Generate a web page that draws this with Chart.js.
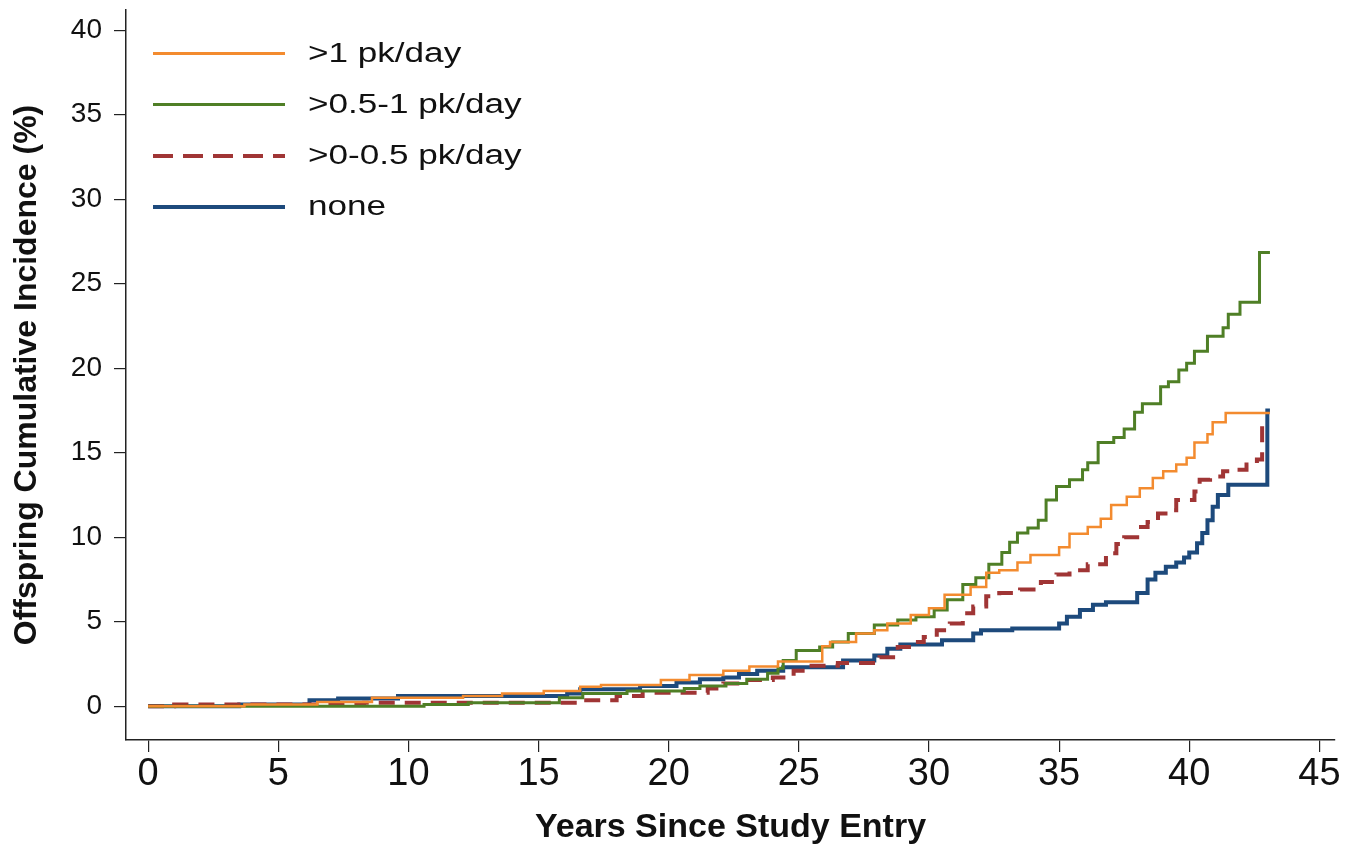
<!DOCTYPE html>
<html lang="en">
<head>
    <meta charset="UTF-8">
    <title>Offspring Cumulative Incidence</title>
    <style>
        body {
          margin: 0;
          padding: 0;
          background: #fff;
        }

        .wrap {
          position: relative;
          width: 1353px;
          height: 853px;
        }

        /* legend sits inside the plot, top left */
        .legend {
          position: absolute;
          left: 153px;
          top: 28px;
        }

        .legend-row {
          display: flex;
          align-items: center;
          height: 51px;
        }

        .legend-line {
          width: 132px;
          margin-right: 23px;
        }

        .legend-text {
          font-family: "Liberation Sans", Arial, sans-serif;
          font-size: 27px;
          color: #111;
          transform: scaleX(1.3);
          transform-origin: left center;
          white-space: nowrap;
        }
    </style>
</head>
<body>
<div class="wrap">
    <canvas id="chart" width="1353" height="853"></canvas>
    <div id="legend" class="legend"></div>
</div>

<script src="https://cdn.jsdelivr.net/npm/chart.js"></script>
<script>
    // series labels and colours
    const seriesLabels = ['>1 pk/day', '>0.5-1 pk/day', '>0-0.5 pk/day', 'none'];
    const seriesColors = ['#f38b2f', '#4f7f26', '#a03535', '#1d4a7c'];

    // >1 pk/day
    const heavyYears = [0, 3.7, 6.5, 8.6, 12.1, 13.6, 15.2, 16.6, 17.4, 19.7, 20.8, 22.1, 23.1, 24.2, 25.9, 26.2, 27.2, 27.9, 28.4, 29.3, 30.0, 30.6, 31.6, 32.2, 32.7, 33.4, 33.9, 35.0, 35.4, 36.1, 36.6, 37.0, 37.6, 38.1, 38.6, 39.0, 39.5, 39.9, 40.2, 40.7, 40.9, 41.4, 43.1];
    const heavyPct   = [0, 0.1, 0.25, 0.5, 0.6, 0.75, 0.9, 1.15, 1.25, 1.55, 1.85, 2.1, 2.35, 2.65, 3.55, 3.8, 4.3, 4.5, 4.9, 5.4, 5.8, 6.6, 7.05, 7.9, 8.05, 8.5, 8.95, 9.4, 10.2, 10.6, 11.1, 11.9, 12.4, 12.9, 13.5, 13.9, 14.3, 14.7, 15.6, 16.1, 16.8, 17.35, 17.35];

    // >0.5-1 pk/day
    const modYears = [0, 10.6, 12.3, 15.8, 16.7, 18.4, 20.6, 21.2, 22.2, 23.0, 23.8, 24.2, 24.4, 24.9, 25.8, 26.3, 26.9, 27.9, 28.8, 29.5, 30.2, 30.7, 31.3, 31.8, 32.3, 32.8, 33.1, 33.4, 33.8, 34.2, 34.5, 34.9, 35.4, 35.9, 36.1, 36.5, 37.1, 37.5, 37.9, 38.2, 38.9, 39.2, 39.6, 39.9, 40.2, 40.7, 41.3, 41.5, 41.95, 42.7, 43.1];
    const modPct   = [0, 0.1, 0.2, 0.5, 0.75, 0.9, 1.05, 1.2, 1.35, 1.6, 1.95, 2.25, 2.7, 3.3, 3.5, 3.8, 4.3, 4.8, 5.1, 5.3, 5.7, 6.3, 7.2, 7.6, 8.4, 9.1, 9.7, 10.25, 10.55, 11.0, 12.2, 13.0, 13.4, 14.0, 14.4, 15.6, 15.9, 16.4, 17.4, 17.9, 18.9, 19.2, 19.9, 20.3, 21.0, 21.9, 22.4, 23.2, 23.9, 26.85, 26.85];

    // >0-0.5 pk/day
    const lightYears = [0, 1.0, 8.3, 16.5, 18.0, 19.0, 21.5, 22.1, 22.9, 24.0, 24.8, 25.4, 26.5, 28.1, 28.8, 29.4, 29.8, 30.3, 30.8, 31.3, 31.7, 32.2, 32.7, 33.5, 34.3, 34.9, 35.4, 36.1, 36.8, 37.2, 37.5, 38.0, 38.4, 38.8, 39.2, 39.5, 40.2, 40.4, 40.8, 41.3, 41.8, 42.2, 42.6, 42.8, 43.0];
    const lightPct   = [0, 0.1, 0.2, 0.35, 0.6, 0.8, 1.05, 1.35, 1.55, 1.7, 2.1, 2.4, 2.55, 2.9, 3.5, 3.8, 4.1, 4.5, 4.9, 5.5, 5.9, 6.5, 6.7, 6.9, 7.35, 7.8, 8.05, 8.4, 9.05, 9.6, 10.0, 10.6, 10.9, 11.4, 11.6, 12.2, 12.7, 13.4, 13.6, 13.9, 14.0, 14.3, 14.6, 16.8, 16.8];

    // none
    const noneYears = [0, 3.5, 6.2, 7.3, 9.6, 16.1, 16.6, 18.9, 20.3, 21.2, 22.1, 22.7, 23.4, 24.4, 26.7, 27.9, 28.4, 28.9, 30.5, 31.7, 32.0, 33.2, 35.0, 35.3, 35.8, 36.3, 36.8, 38.0, 38.4, 38.7, 39.1, 39.5, 39.8, 40.0, 40.3, 40.5, 40.7, 40.9, 41.1, 41.5, 43.0, 43.1];
    const nonePct   = [0, 0.1, 0.35, 0.45, 0.6, 0.75, 1.0, 1.2, 1.4, 1.6, 1.7, 1.9, 2.1, 2.3, 2.7, 3.0, 3.4, 3.65, 3.9, 4.3, 4.5, 4.6, 4.9, 5.3, 5.7, 6.0, 6.15, 6.7, 7.5, 7.9, 8.25, 8.5, 8.8, 9.1, 9.65, 10.25, 11.0, 11.8, 12.5, 13.1, 17.5, 17.5];

    // tick labels
    const xTicks = [0, 5, 10, 15, 20, 25, 30, 35, 40, 45];
    const yTicks = [0, 5, 10, 15, 20, 25, 30, 35, 40];

    function toPoints(years, pct) {
      return years.map((t, i) => ({ x: t, y: pct[i] }));
    }

    const seriesData = [
      toPoints(heavyYears, heavyPct),
      toPoints(modYears, modPct),
      toPoints(lightYears, lightPct),
      toPoints(noneYears, nonePct)
    ];
    const lineWidths = [2.5, 3, 4, 4];
    const dashes = [[], [], [16, 10], []];
    const drawOrder = [0, 1, 2, 3];

    const datasets = seriesData.map((pts, i) => ({
      label: seriesLabels[i],
      data: pts,
      borderColor: seriesColors[i],
      backgroundColor: seriesColors[i],
      borderWidth: lineWidths[i],
      borderDash: dashes[i],
      stepped: true,
      pointRadius: 0,
      fill: false,
      order: drawOrder[i]
    }));

    const ctx = document.getElementById('chart').getContext('2d');
    const chart = new Chart(ctx, {
      type: 'line',
      data: { datasets: datasets },
      options: {
        responsive: false,
        animation: false,
        layout: { padding: { top: 10, right: 18, left: 0, bottom: 0 } },
        plugins: {
          legend: { display: false },
          tooltip: { enabled: false }
        },
        scales: {
          x: {
            type: 'linear',
            min: -0.85,
            max: 45.6,
            afterBuildTicks: (scale) => { scale.ticks = xTicks.map(v => ({ value: v })); },
            afterFit: (scale) => { scale.height = 113; },
            grid: { drawOnChartArea: false, drawTicks: true, tickLength: 12, color: '#222', lineWidth: 1.2 },
            border: { display: true, color: '#222', width: 1.5 },
            ticks: {
              color: '#111',
              padding: 0,
              maxRotation: 0,
              font: { family: '"Liberation Sans Narrow", "Liberation Sans", sans-serif', size: 38 }
            },
            title: {
              display: true,
              text: 'Years Since Study Entry',
              color: '#111',
              padding: { top: 0, bottom: 5 },
              font: { family: '"Liberation Sans Narrow", sans-serif', size: 34, weight: 'bold' }
            }
          },
          y: {
            type: 'linear',
            min: -2,
            max: 41.2,
            afterBuildTicks: (scale) => { scale.ticks = yTicks.map(v => ({ value: v })); },
            afterFit: (scale) => {
              scale.width = 126;
              // let the axis run to the top edge like the original
              scale.paddingTop = 0;
              scale.paddingBottom = 0;
            },
            grid: { drawOnChartArea: false, drawTicks: true, tickLength: 12, color: '#222', lineWidth: 1.2 },
            border: { display: true, color: '#222', width: 1.5 },
            ticks: {
              color: '#111',
              padding: 12,
              font: { family: '"Liberation Sans", Arial, sans-serif', size: 28 }
            },
            title: {
              display: true,
              text: 'Offspring Cumulative Incidence (%)',
              color: '#111',
              padding: { top: 8, bottom: 0 },
              font: { family: '"Liberation Sans Narrow", sans-serif', size: 32, weight: 'bold' }
            }
          }
        }
      }
    });

    // build the legend from the same labels and colours
    const legend = document.getElementById('legend');
    seriesLabels.forEach((label, i) => {
      const row = document.createElement('div');
      row.className = 'legend-row';
      const line = document.createElement('div');
      line.className = 'legend-line';
      line.style.height = lineWidths[i] + 'px';
      if (dashes[i].length) {
        line.style.background = 'repeating-linear-gradient(to right, ' + seriesColors[i] + ' 0 20px, transparent 20px 30px)';
      } else {
        line.style.background = seriesColors[i];
      }
      const text = document.createElement('span');
      text.className = 'legend-text';
      text.textContent = label;
      row.appendChild(line);
      row.appendChild(text);
      legend.appendChild(row);
    });
</script>
</body>
</html>
